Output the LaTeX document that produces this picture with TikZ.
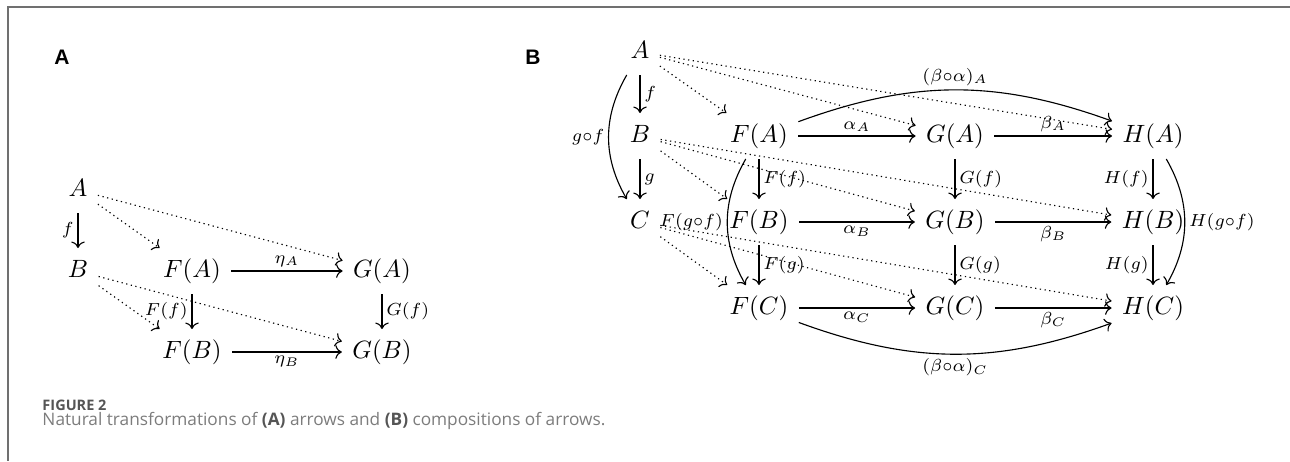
\documentclass[tikz,border=0pt]{standalone}
\usepackage{fontspec}
\newfontfamily\panelfont{Liberation Sans}
\newfontfamily\captionfont{Open Sans}
\usetikzlibrary{arrows.meta}
\definecolor{framegray}{HTML}{707070}
\definecolor{capgray}{HTML}{7C7C7C}
\definecolor{figgray}{HTML}{555555}

\begin{document}
\begin{tikzpicture}[x=0.4pt, y=-0.4pt,
    obj/.style={inner sep=4pt, text height=7.5pt, text depth=2.5pt},
    mor/.style={-{Computer Modern Rightarrow}, line width=0.45pt},
    comp/.style={mor, dash pattern=on 0.5pt off 1.4pt},
    lbl/.style={inner sep=1.5pt, execute at begin node=$\scriptstyle, execute at end node=$},
    panel/.style={font=\panelfont\fontsize{8.4}{10}\selectfont\bfseries, inner sep=0pt}]
  \useasboundingbox (0,0) rectangle (1290,461);
  % frame
  \draw[framegray, line width=0.8pt] (1290,7) -- (8,7) -- (8,461);

  % (A) naturality square
  \node[panel] (labA) at (62,57) {A};
  \node[obj] (aA) at (78,190) {$A$};
  \node[obj] (aB) at (78,271) {$B$};
  \node[obj] (aFA) at (192,271) {$F(A)$};
  \node[obj] (aGA) at (382,271) {$G(A)$};
  \node[obj] (aFB) at (192,352) {$F(B)$};
  \node[obj] (aGB) at (382,352) {$G(B)$};

  \draw[mor] (aA) -- node[lbl,left] (af) {f} (aB);
  \draw[mor] (aFA) -- node[lbl,above] (aetaA) {\eta_A} (aGA);
  \draw[mor] (aFB) -- node[lbl,below] (aetaB) {\eta_B} (aGB);
  \draw[mor] (aFA) -- node[lbl,left] (aFf) {F(f)} (aFB);
  \draw[mor] (aGA) -- node[lbl,right] (aGf) {G(f)} (aGB);
  \draw[comp] (aA) -- (aFA);
  \draw[comp] (aA) -- (aGA);
  \draw[comp] (aB) -- (aFB);
  \draw[comp] (aB) -- (aGB);

  % (B) vertical composition
  \node[panel] (labB) at (533,57) {B};
  \node[obj] (bA) at (640,52) {$A$};
  \node[obj] (bB) at (640,136) {$B$};
  \node[obj] (bC) at (640,222) {$C$};
  \node[obj] (bFA) at (759,136) {$F(A)$};
  \node[obj] (bGA) at (955,136) {$G(A)$};
  \node[obj] (bHA) at (1153,136) {$H(A)$};
  \node[obj] (bFB) at (759,222) {$F(B)$};
  \node[obj] (bGB) at (955,222) {$G(B)$};
  \node[obj] (bHB) at (1153,222) {$H(B)$};
  \node[obj] (bFC) at (759,308) {$F(C)$};
  \node[obj] (bGC) at (955,308) {$G(C)$};
  \node[obj] (bHC) at (1153,308) {$H(C)$};

  \draw[mor] (bA) -- node[lbl,right] (bf) {f} (bB);
  \draw[mor] (bB) -- node[lbl,right] (bg) {g} (bC);
  \draw[mor] (bA) to[bend right=30] node[lbl,left] (bgf) {g\circ f} (bC);

  \draw[mor] (bFA) -- node[lbl,above] (balA) {\alpha_A} (bGA);
  \draw[mor] (bGA) -- node[lbl,above] (bbeA) {\beta_A} (bHA);
  \draw[mor] (bFB) -- node[lbl,below] (balB) {\alpha_B} (bGB);
  \draw[mor] (bGB) -- node[lbl,below] (bbeB) {\beta_B} (bHB);
  \draw[mor] (bFC) -- node[lbl,below] (balC) {\alpha_C} (bGC);
  \draw[mor] (bGC) -- node[lbl,below] (bbeC) {\beta_C} (bHC);

  \draw[mor] (bFA) -- node[lbl,right] (bFf) {F(f)} (bFB);
  \draw[mor] (bFB) -- node[lbl,right] (bFg) {F(g)} (bFC);
  \draw[mor] (bGA) -- node[lbl,right] (bGf) {G(f)} (bGB);
  \draw[mor] (bGB) -- node[lbl,right] (bGg) {G(g)} (bGC);
  \draw[mor] (bHA) -- node[lbl,left] (bHf) {H(f)} (bHB);
  \draw[mor] (bHB) -- node[lbl,left] (bHg) {H(g)} (bHC);

  \draw[mor] (bFA) to[bend right=30] node[lbl,left] (bFgf) {F(g\circ f)} (bFC);
  \draw[mor] (bHA) to[bend left=30] node[lbl,right] (bHgf) {H(g\circ f)} (bHC);
  \draw[mor] (bFA) to[bend left=20] node[lbl,above] (bbaA) {(\beta\circ\alpha)_A} (bHA);
  \draw[mor] (bFC) to[bend right=20] node[lbl,below] (bbaC) {(\beta\circ\alpha)_C} (bHC);

  \draw[comp] (bA) -- (bFA);
  \draw[comp] (bA) -- (bGA);
  \draw[comp] (bA) -- (bHA);
  \draw[comp] (bB) -- (bFB);
  \draw[comp] (bB) -- (bGB);
  \draw[comp] (bB) -- (bHB);
  \draw[comp] (bC) -- (bFC);
  \draw[comp] (bC) -- (bGC);
  \draw[comp] (bC) -- (bHC);

  % caption
  \node[anchor=west, inner sep=0pt, text=figgray,
    font=\captionfont\fontsize{5.8}{7}\selectfont\bfseries] (figno) at (42,405) {FIGURE 2};
  \node[anchor=west, inner sep=0pt, text=capgray,
    font=\captionfont\fontsize{6.9}{8}\selectfont] (cap) at (42,421)
    {Natural transformations of {\color{figgray}\bfseries(A)} arrows and {\color{figgray}\bfseries(B)} compositions of arrows.};
\end{tikzpicture}
\end{document}
